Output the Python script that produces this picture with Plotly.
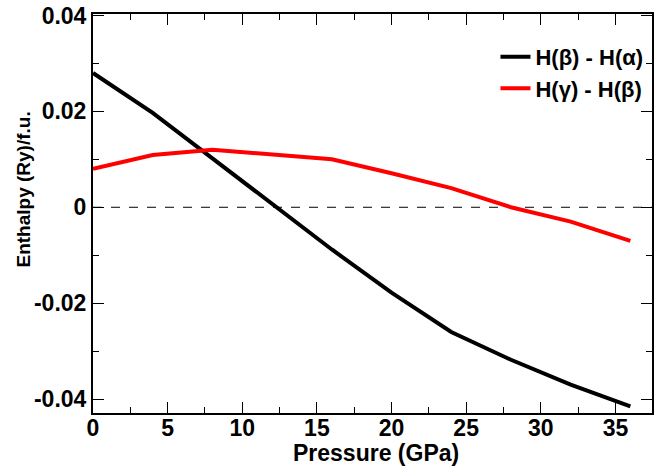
import plotly.graph_objects as go

pressure = [0, 4, 8, 12, 16, 20, 24, 28, 32, 36]
h_beta_alpha = [0.028, 0.0197, 0.0102, 0.0008, -0.0088, -0.0178, -0.0260, -0.0318, -0.0370, -0.0415]
h_gamma_beta = [0.008, 0.0109, 0.0120, 0.0110, 0.0100, 0.0071, 0.0040, 0.0000, -0.0030, -0.0070]

FAM = "Liberation Sans, Arial, sans-serif"
font = dict(family=FAM, color="black")

fig = go.Figure()
fig.add_trace(go.Scatter(x=pressure, y=h_beta_alpha, mode="lines",
                         line=dict(color="black", width=4),
                         name="<b>H(β) - H(α)</b>"))
fig.add_trace(go.Scatter(x=pressure, y=h_gamma_beta, mode="lines",
                         line=dict(color="#ff0000", width=4),
                         name="<b>H(γ) - H(β)</b>"))
fig.add_shape(type="line", xref="paper", x0=0, x1=1, yref="y", y0=0, y1=0,
              line=dict(color="black", width=1, dash="dash"), layer="below")

axis_common = dict(showgrid=False, zeroline=False, showline=True, linecolor="black",
                   linewidth=2, mirror="ticks", ticks="inside", ticklen=11,
                   tickwidth=1, tickcolor="black")

fig.add_annotation(text="<b>Enthalpy (Ry)/f.u.</b>", textangle=-90,
                   xref="paper", yref="paper", x=-0.1246, y=0.561,
                   xanchor="center", yanchor="middle",
                   showarrow=False, font=dict(size=19, family=FAM, color="black"))
fig.add_annotation(text="<b>Pressure (GPa)</b>",
                   xref="paper", yref="paper", x=0.507, y=-0.1,
                   xanchor="center", yanchor="middle",
                   showarrow=False, font=dict(size=23, family=FAM, color="black"))

fig.update_layout(
    width=656, height=466,
    margin=dict(l=93, r=2, t=14, b=53),
    plot_bgcolor="white", paper_bgcolor="white",
    font=font,
    showlegend=True,
    legend=dict(x=0.72, y=0.945, xanchor="left", yanchor="top",
                font=dict(size=22, family=FAM),
                bgcolor="rgba(0,0,0,0)", tracegroupgap=0, itemwidth=30),
    xaxis=dict(range=[0, 37.45], tickvals=[0, 5, 10, 15, 20, 25, 30, 35],
               ticktext=["<b>%d</b>" % v for v in [0, 5, 10, 15, 20, 25, 30, 35]],
               tickfont=dict(size=23), ticklabelstandoff=-7,
               minor=dict(dtick=2.5, ticks="inside", ticklen=6, tickcolor="black"),
               **axis_common),
    yaxis=dict(range=[-0.0429, 0.0403], tickvals=[-0.04, -0.02, 0, 0.02, 0.04],
               ticktext=["<b>-0.04</b>", "<b>-0.02</b>", "<b>0</b>", "<b>0.02</b>", "<b>0.04</b>"],
               tickfont=dict(size=23),
               minor=dict(dtick=0.01, ticks="inside", ticklen=6, tickcolor="black"),
               **axis_common),
)

fig.write_html("out.html")
